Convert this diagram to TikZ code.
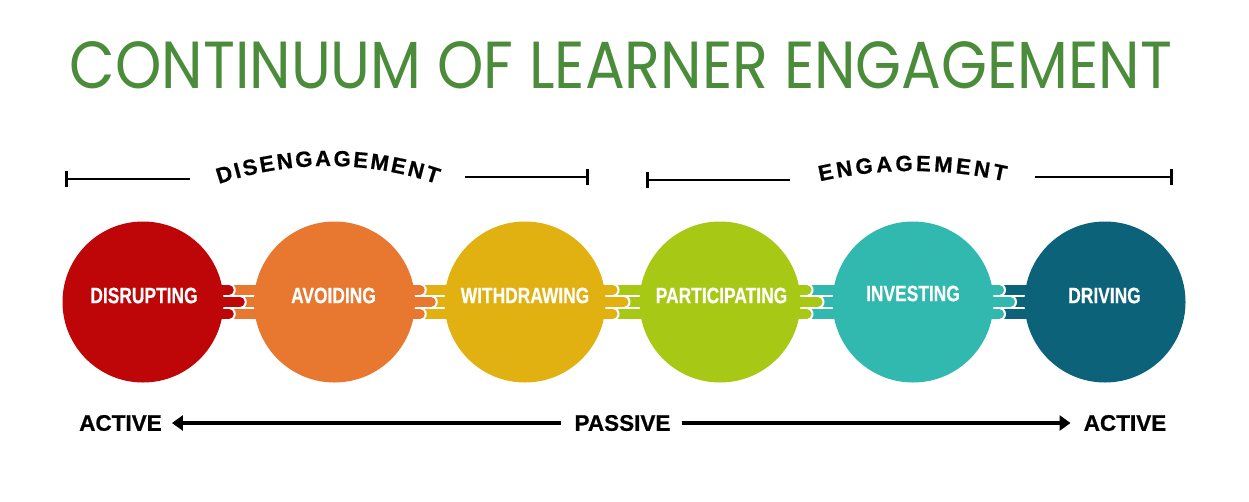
\documentclass[tikz,border=0pt]{standalone}
\usepackage{fontspec}
\usepackage{graphicx}
\usetikzlibrary{arrows.meta,calc}
\newfontfamily\titlefont{Poppins}
\newfontfamily\boldsans{Liberation Sans}[BoldFeatures={FakeBold=0.7}]
\newfontfamily\condsans{Liberation Sans}[FakeStretch=0.78,BoldFeatures={FakeBold=0.4}]
\definecolor{ttlgreen}{RGB}{74,140,58}
\definecolor{cred}{RGB}{190,6,8}
\definecolor{corange}{RGB}{232,119,48}
\definecolor{cyellow}{RGB}{224,177,16}
\definecolor{clime}{RGB}{168,200,22}
\definecolor{cteal}{RGB}{50,185,175}
\definecolor{cdark}{RGB}{11,98,121}
% one row of interlocking fingers between two circles
\newcommand\fingerrow[6]{%
  \coordinate (fm) at ($(#1.east)!.5!(#2.west)+(#6,#5)$);
  \draw[line width=9.5pt,#4] ($(fm)+(-8,0)$) -- ($(#2.center)+(-60,#5)$);
  \draw[line width=13.5pt,white,line cap=round] ($(fm)+(-20,0)$) -- ($(fm)+(-4.75,0)$);
  \draw[line width=9.5pt,#3,line cap=round] ($(#1.center)+(60,#5)$) -- ($(fm)+(-4.75,0)$);
}
\newcommand\fingers[4]{%
  \fingerrow{#1}{#2}{#3}{#4}{-12}{-5}%
  \fingerrow{#1}{#2}{#3}{#4}{0}{6}%
  \fingerrow{#1}{#2}{#3}{#4}{12}{-5}%
}
\begin{document}
\begin{tikzpicture}[x=1pt,y=-1pt,
  circ/.style={circle,minimum size=161pt,inner sep=0pt,draw=none},
  lbl/.style={inner sep=0pt,text=white,font=\condsans\bfseries\fontsize{22.3pt}{26pt}\selectfont},
  arcl/.style={inner sep=0pt,anchor=base,font=\boldsans\bfseries\fontsize{22pt}{26pt}\selectfont},
  bot/.style={inner sep=0pt,font=\boldsans\bfseries\fontsize{22.5pt}{26pt}\selectfont},
  arr/.style={line width=3.2pt,-{Triangle[length=11pt,width=15pt]}},
  rng/.style={line width=2.8pt,-{Bar[width=16pt]}},
  ttl/.style={inner sep=0pt,text=ttlgreen}
]
\useasboundingbox (0,0) rectangle (1249,501);
\fill[white] (0,0) rectangle (1249,501);

% title
\node[ttl] (title) at (621,65.5) {\resizebox{1102pt}{47pt}{\titlefont CONTINUUM OF LEARNER ENGAGEMENT}};

% ranges
\coordinate (d1a) at (65,179);   \coordinate (d1b) at (190,179);
\coordinate (d2a) at (465,177);  \coordinate (d2b) at (589,177);
\coordinate (e1a) at (646,180);  \coordinate (e1b) at (790,180);
\coordinate (e2a) at (1035,177); \coordinate (e2b) at (1173,177);
\draw[rng] (d1b) -- (d1a);
\draw[rng] (d2a) -- (d2b);
\draw[rng] (e1b) -- (e1a);
\draw[rng] (e2a) -- (e2b);

% arched words
\coordinate (dcen) at (328,506);
\foreach \ch/\s [count=\i] in {D/-103.03,I/-89.73,S/-77.03,E/-60.06,N/-42.49,G/-23.69,A/-4.89,G/13.91,E/32.11,M/50.91,E/69.71,N/87.28,T/104.24}
  \node[arcl,rotate={0-(\s)*0.168517}] (dl\i) at ($(dcen)+({90-(\s)*0.168517}:340pt)$) {\ch};
\coordinate (ecen) at (912.5,591);
\foreach \ch/\s [count=\i] in {E/-85.89,N/-67.42,G/-47.72,A/-28.02,G/-8.32,E/10.78,M/30.48,E/50.18,N/68.65,T/86.51}
  \node[arcl,rotate={0-(\s)*0.136418}] (el\i) at ($(ecen)+({90-(\s)*0.136418}:420pt)$) {\ch};

% circles (positions)
\path (143,302) node[circ] (c1) {}
      (334.5,302) node[circ] (c2) {}
      (525,302) node[circ] (c3) {}
      (720,302) node[circ] (c4) {}
      (913,302) node[circ] (c5) {}
      (1105,302) node[circ] (c6) {};

% connectors
\fingers{c1}{c2}{cred}{corange}
\fingers{c2}{c3}{corange}{cyellow}
\fingers{c3}{c4}{cyellow}{clime}
\fingers{c4}{c5}{clime}{cteal}
\fingers{c5}{c6}{cteal}{cdark}

% circle fills
\fill[cred] (c1) circle (80.5);
\fill[corange] (c2) circle (80.5);
\fill[cyellow] (c3) circle (80.5);
\fill[clime] (c4) circle (80.5);
\fill[cteal] (c5) circle (80.5);
\fill[cdark] (c6) circle (80.5);

% labels
\node[lbl] (l1) at (144,295.5) {DISRUPTING};
\node[lbl] (l2) at (333.5,295.5) {AVOIDING};
\node[lbl] (l3) at (525,295.5) {WITHDRAWING};
\node[lbl] (l4) at (721.5,295.5) {PARTICIPATING};
\node[lbl] (l5) at (913,293.5) {INVESTING};
\node[lbl] (l6) at (1104.5,295.5) {DRIVING};

% bottom scale
\node[bot] (actL) at (120.5,423) {ACTIVE};
\node[bot] (pas) at (622.5,423) {PASSIVE};
\node[bot] (actR) at (1125,423) {ACTIVE};
\draw[arr,shorten <=13pt,shorten >=10pt] (pas.west) -- (actL.east);
\draw[arr,shorten <=11pt,shorten >=13pt] (pas.east) -- (actR.west);
\end{tikzpicture}
\end{document}
